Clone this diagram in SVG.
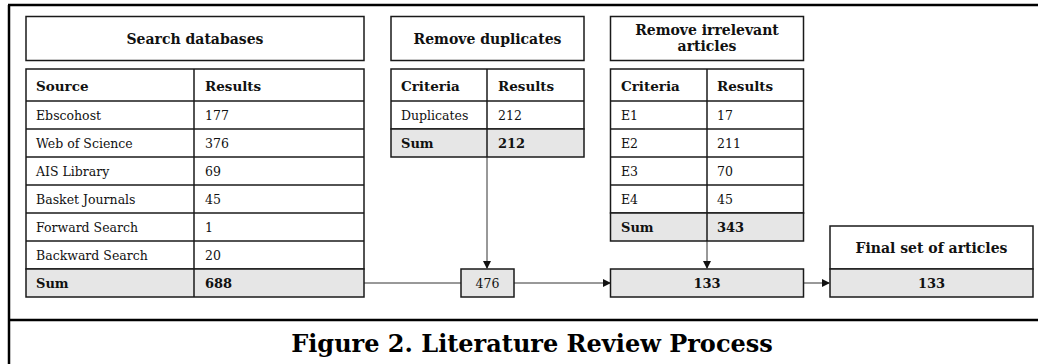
<svg xmlns="http://www.w3.org/2000/svg" width="1038" height="364" viewBox="0 0 1038 364">
<style>
  .frame{stroke:#000;stroke-width:2.5;fill:none}
  .box{fill:#fff;stroke:#1a1a1a;stroke-width:1.5}
  .sum{fill:#e6e6e6;stroke:#1a1a1a;stroke-width:1.5}
  .ln{stroke:#1a1a1a;stroke-width:1.5;fill:none}
  .conn{stroke:#333;stroke-width:1;fill:none}
  text{font-family:"DejaVu Serif","Liberation Serif",serif;fill:#111}
  .t{font-size:14px;font-weight:bold;text-anchor:middle}
  .h{font-size:13.5px;font-weight:bold}
  .d{font-size:12.5px}
  .b{font-size:13px;font-weight:bold}
  .c{text-anchor:middle}
  .cap{font-size:24px;font-weight:bold;text-anchor:middle;fill:#000}
</style>
<defs>
  <marker id="arr" markerWidth="8" markerHeight="8" refX="7" refY="4" orient="auto" markerUnits="userSpaceOnUse">
    <path d="M0,0 L8,4 L0,8 Z" fill="#111"/>
  </marker>
</defs>
<rect width="1038" height="364" fill="#fff"/>
<g id="frame">
  <line class="frame" x1="9" y1="5" x2="9" y2="364"/>
  <line class="frame" x1="8" y1="5" x2="1038" y2="5"/>
  <line class="frame" x1="8" y1="320" x2="1038" y2="320"/>
</g>
<g id="connectors">
  <line class="conn" x1="364" y1="283" x2="461" y2="283"/>
  <line class="conn" x1="514" y1="283" x2="610" y2="283" marker-end="url(#arr)"/>
  <line class="conn" x1="803" y1="283" x2="829" y2="283" marker-end="url(#arr)"/>
  <line class="conn" x1="487" y1="157" x2="487" y2="268" marker-end="url(#arr)"/>
  <line class="conn" x1="707" y1="241" x2="707" y2="268" marker-end="url(#arr)"/>
</g>
<g id="search-databases">
  <rect class="box" x="26" y="16.5" width="338" height="44"/>
  <text class="t" x="195" y="44">Search databases</text>
  <rect class="box" x="26" y="69" width="338" height="200"/>
  <rect class="sum" x="26" y="269" width="338" height="28"/>
  <line class="ln" x1="26" y1="101" x2="364" y2="101"/>
  <line class="ln" x1="26" y1="129" x2="364" y2="129"/>
  <line class="ln" x1="26" y1="157" x2="364" y2="157"/>
  <line class="ln" x1="26" y1="185" x2="364" y2="185"/>
  <line class="ln" x1="26" y1="213" x2="364" y2="213"/>
  <line class="ln" x1="26" y1="241" x2="364" y2="241"/>
  <line class="ln" x1="194" y1="69" x2="194" y2="297"/>
  <text class="h" x="36" y="91">Source</text>
  <text class="h" x="205" y="91">Results</text>
  <text class="d" x="36" y="120">Ebscohost</text><text class="d" x="205" y="120">177</text>
  <text class="d" x="36" y="148">Web of Science</text><text class="d" x="205" y="148">376</text>
  <text class="d" x="36" y="176">AIS Library</text><text class="d" x="205" y="176">69</text>
  <text class="d" x="36" y="204">Basket Journals</text><text class="d" x="205" y="204">45</text>
  <text class="d" x="36" y="232">Forward Search</text><text class="d" x="205" y="232">1</text>
  <text class="d" x="36" y="260">Backward Search</text><text class="d" x="205" y="260">20</text>
  <text class="b" x="36" y="288">Sum</text><text class="b" x="205" y="288">688</text>
</g>
<g id="remove-duplicates">
  <rect class="box" x="391" y="16.5" width="193" height="44"/>
  <text class="t" x="487.5" y="44">Remove duplicates</text>
  <rect class="box" x="391" y="69" width="193" height="60"/>
  <rect class="sum" x="391" y="129" width="193" height="28"/>
  <line class="ln" x1="391" y1="101" x2="584" y2="101"/>
  <line class="ln" x1="487" y1="69" x2="487" y2="157"/>
  <text class="h" x="401" y="91">Criteria</text>
  <text class="h" x="498" y="91">Results</text>
  <text class="d" x="401" y="120">Duplicates</text><text class="d" x="498" y="120">212</text>
  <text class="b" x="401" y="148">Sum</text><text class="b" x="498" y="148">212</text>
</g>
<g id="remove-irrelevant">
  <rect class="box" x="610.5" y="16.5" width="193" height="44"/>
  <text class="t" x="707" y="35">Remove irrelevant</text>
  <text class="t" x="707" y="51">articles</text>
  <rect class="box" x="610.5" y="69" width="193" height="144"/>
  <rect class="sum" x="610.5" y="213" width="193" height="28"/>
  <line class="ln" x1="610.5" y1="101" x2="803.5" y2="101"/>
  <line class="ln" x1="610.5" y1="129" x2="803.5" y2="129"/>
  <line class="ln" x1="610.5" y1="157" x2="803.5" y2="157"/>
  <line class="ln" x1="610.5" y1="185" x2="803.5" y2="185"/>
  <line class="ln" x1="707" y1="69" x2="707" y2="241"/>
  <text class="h" x="621" y="91">Criteria</text>
  <text class="h" x="717" y="91">Results</text>
  <text class="d" x="621" y="120">E1</text><text class="d" x="717" y="120">17</text>
  <text class="d" x="621" y="148">E2</text><text class="d" x="717" y="148">211</text>
  <text class="d" x="621" y="176">E3</text><text class="d" x="717" y="176">70</text>
  <text class="d" x="621" y="204">E4</text><text class="d" x="717" y="204">45</text>
  <text class="b" x="621" y="232">Sum</text><text class="b" x="717" y="232">343</text>
</g>
<g id="after-duplicates">
  <rect class="sum" x="461" y="269" width="53" height="28"/>
  <text class="d c" x="487.5" y="288">476</text>
</g>
<g id="after-irrelevant">
  <rect class="sum" x="610.5" y="269" width="193" height="28"/>
  <text class="b c" x="707" y="288">133</text>
</g>
<g id="final-set">
  <rect class="box" x="830" y="226" width="203" height="43"/>
  <rect class="sum" x="830" y="269" width="203" height="28"/>
  <text class="t" x="931.5" y="253">Final set of articles</text>
  <text class="b c" x="931.5" y="288">133</text>
</g>
<g id="caption">
  <text class="cap" x="532" y="352">Figure 2. Literature Review Process</text>
</g>
</svg>
